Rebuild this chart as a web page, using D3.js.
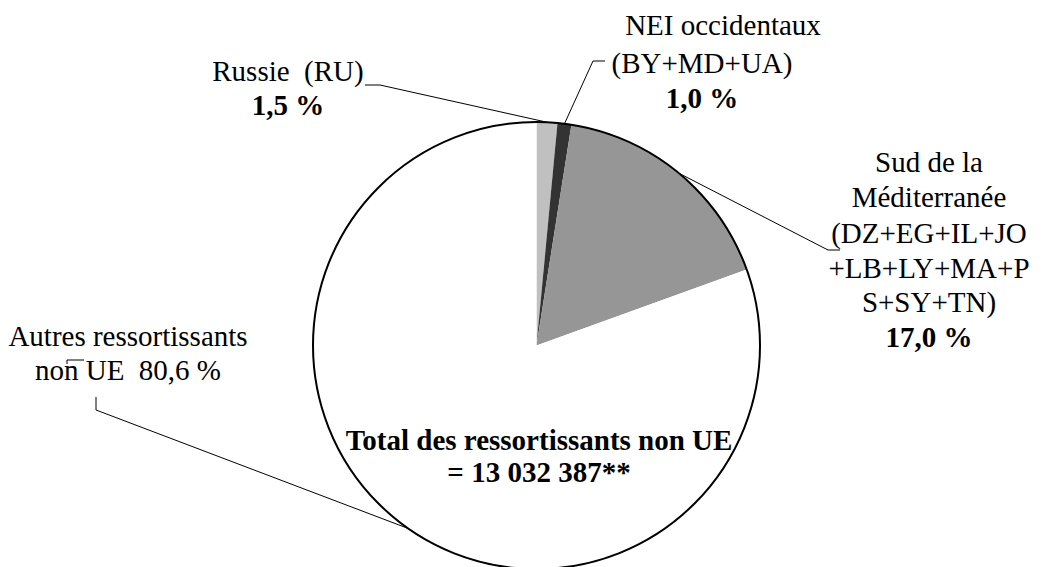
<!DOCTYPE html>
<html>
<head>
<meta charset="utf-8">
<script src="https://cdn.jsdelivr.net/npm/d3@7"></script>
<style>
body{margin:0;background:white;font-family:'Liberation Serif', 'Times New Roman', serif}
svg{font-family:'Liberation Serif', 'Times New Roman', serif}
</style>
</head>
<body>
<div id="chart"></div>
<script>

// data
const categories = ["Russie (RU)", "NEI occidentaux (BY+MD+UA)", "Sud de la Méditerranée", "Autres ressortissants non UE"]
const values = [1.5, 1.0, 17.0, 80.6]
const valueLabels = ["1,5 %", "1,0 %", "17,0 %", "80,6 %"]
const colors = ["#c0c0c0", "#333333", "#969696", "#ffffff"]
const totalLines = ["Total des ressortissants non UE", "= 13 032 387**"]

const width = 1055
const height = 567
const cx = 536.5
const cy = 345.5
const radius = 223.5
const font = "'Liberation Serif', 'Times New Roman', Tinos, Times, 'Nimbus Roman', FreeSerif, serif"
const nb = "\u00A0"

// label layout: text lines, centre x, baselines, and leader elbow
const labelLayout = [
{lines:[{t:"Russie" + nb + nb + "(RU)"},{t:valueLabels[0],bold:true}], x:288, y:[81,115], leader:[[365,85],[380,85]]},
{lines:[{t:"NEI occidentaux",dx:21},{t:"(BY+MD+UA)"},{t:valueLabels[1],bold:true}], x:702, y:[35,73,108], leader:[[605,61],[593,61]]},
{lines:[{t:"Sud de la"},{t:"Méditerranée"},{t:"(DZ+EG+IL+JO"},{t:"+LB+LY+MA+P"},{t:"S+SY+TN)"},{t:valueLabels[2],bold:true}], x:929, y:[172,207,243,278,312,347], leader:[[840,250],[828,250]]},
{lines:[{t:"Autres ressortissants"},{t:"non UE" + nb + nb + valueLabels[3]}], x:128, y:[346,380], leader:[[96,397],[96,410]]}
]

const svg = d3.select("#chart")
.append("svg")
.attr("width", width)
.attr("height", height)
.attr("font-family", font)

const pie = d3.pie().sort(null).value(d => d)
const arcs = pie(values)

const arc = d3.arc().innerRadius(0).outerRadius(radius)

const g = svg.append("g").attr("transform", `translate(${cx},${cy})`)

g.selectAll("path.slice")
.data(arcs)
.enter()
.append("path")
.attr("class", "slice")
.attr("d", arc)
.attr("fill", (d,i) => colors[i])

g.append("circle")
.attr("r", radius)
.attr("fill", "none")
.attr("stroke", "black")
.attr("stroke-width", 2)

// leader lines from label elbow to the slice edge
const line = d3.line()

svg.selectAll("path.leader")
.data(arcs)
.enter()
.append("path")
.attr("class", "leader")
.attr("d", (d,i) => {
const a = (d.startAngle + d.endAngle) / 2
const edge = [cx + radius * Math.sin(a), cy - radius * Math.cos(a)]
return line(labelLayout[i].leader.concat([edge]))
})
.attr("fill", "none")
.attr("stroke", "black")
.attr("stroke-width", 1)

// labels, one text element per line
labelLayout.forEach(lab => {
lab.lines.forEach((ln, j) => {
const t = svg.append("text")
.attr("x", lab.x + (ln.dx || 0))
.attr("y", lab.y[j])
.attr("text-anchor", "middle")
.attr("font-family", font)
.attr("font-size", "29px")
.text(ln.t)
if (ln.bold) t.attr("font-weight", "bold")
})
})

// small stray mark over "non UE" seen in the original
svg.append("path")
.attr("d", "M67,364 L67,360 L84,360")
.attr("fill", "none")
.attr("stroke", "black")
.attr("stroke-width", 1)

// total in the middle of the big slice
svg.selectAll("text.total")
.data(totalLines)
.enter()
.append("text")
.attr("class", "total")
.attr("x", 539)
.attr("y", (d,i) => 450 + i * 32)
.attr("text-anchor", "middle")
.attr("font-family", font)
.attr("font-size", "29px")
.attr("font-weight", "bold")
.text(d => d)

</script>
</body>
</html>
